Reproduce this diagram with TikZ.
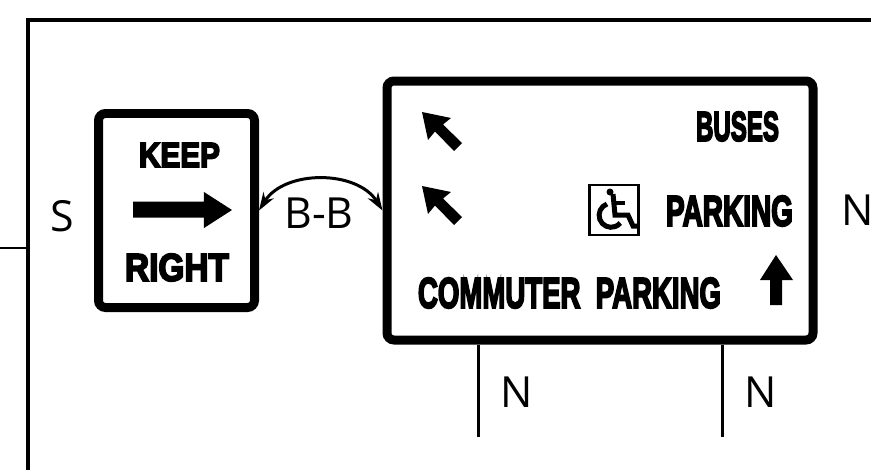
\documentclass[tikz,border=0pt]{standalone}
\usepackage{fontspec}
\usepackage{graphicx}
\setmainfont{Open Sans}
\newfontfamily\signfont[FakeBold=5]{Liberation Sans Bold}
\usetikzlibrary{arrows.meta}
\newcommand{\signtext}[3]{\resizebox{#1cm}{#2cm}{\signfont #3}}
\tikzset{
    signbox/.style={draw,line width=0.09cm,rounded corners=0.07cm,inner sep=0},
    signlabel/.style={inner sep=0},
    dimlabel/.style={inner sep=0,font=\fontsize{12.2}{14}\selectfont},
    leftarrow/.pic={\fill (0,0)--(0.29,-0.06)--(0.21,-0.125)--(0.40,-0.31)--(0.32,-0.39)--(0.13,-0.195)--(0.06,-0.28)--cycle;}
}
\begin{document}
\begin{tikzpicture}
    \useasboundingbox (0,0) rectangle (8.71,4.7);
    % frame
    \draw[line width=0.04cm] (0.28,0)--(0.28,4.5)--(8.71,4.5);
    \coordinate (stub) at (0,2.22);
    \coordinate (frameleft) at (0.28,2.22);
    \draw[line width=0.02cm] (stub)--(frameleft);
    % signs
    \node[signbox,minimum width=1.56cm,minimum height=1.94cm] (keepsign) at (1.765,2.595) {};
    \node[signbox,minimum width=4.26cm,minimum height=2.59cm] (mainsign) at (6,2.595) {};
    \node[signlabel] (keep) at (1.795,3.15) {\signtext{0.81}{0.24}{KEEP}};
    \node[signlabel] (right) at (1.77,2.025) {\signtext{1.04}{0.27}{RIGHT}};
    \node[signlabel] (buses) at (7.375,3.435) {\signtext{0.83}{0.29}{BUSES}};
    \node[signlabel] (parking) at (7.295,2.59) {\signtext{1.27}{0.30}{PARKING}};
    \node[signlabel] (commuter) at (5.695,1.77) {\signtext{3.03}{0.30}{COMMUTER\ \ PARKING}};
    % sign arrows
    \fill (1.33,2.685)--(2.04,2.685)--(2.04,2.78)--(2.32,2.6)--(2.04,2.42)--(2.04,2.525)--(1.33,2.525)--cycle;
    \pic at (4.22,3.58) {leftarrow};
    \pic at (4.22,2.84) {leftarrow};
    \fill (7.76,2.15)--(7.93,1.90)--(7.82,1.90)--(7.82,1.65)--(7.70,1.65)--(7.70,1.90)--(7.60,1.90)--cycle;
    % wheelchair
    \draw[line width=0.03cm] (5.89,2.35) rectangle (6.38,2.85);
    \fill (6.10,2.78) circle (0.035);
    \draw[line width=0.05cm] (6.13,2.76)--(6.15,2.55)--(6.28,2.55)--(6.33,2.44)--(6.37,2.44);
    \draw[line width=0.04cm] (6.14,2.67)--(6.25,2.67);
    \draw[line width=0.05cm] (6.07,2.66) arc (110:320:0.12);
    % posts
    \coordinate (postleft) at (4.785,0.33);
    \coordinate (postright) at (7.225,0.33);
    \draw[line width=0.03cm] (mainsign.south -| postleft)--(postleft);
    \draw[line width=0.03cm] (mainsign.south -| postright)--(postright);
    % dimensions
    \draw[line width=0.03cm,{Stealth[length=0.18cm,width=0.12cm]}-{Stealth[length=0.18cm,width=0.12cm]}] (keepsign.east) to[out=58,in=122] (mainsign.west);
    \node[dimlabel] (widthlabel) at (3.19,2.565) {B-B};
    \node[dimlabel] (sidelabel) at (0.62,2.54) {S};
    \node[dimlabel] (nright) at (8.58,2.60) {N};
    \node[dimlabel] (nleft) at (5.17,0.78) {N};
    \node[dimlabel] (nmid) at (7.61,0.78) {N};
\end{tikzpicture}
\end{document}
